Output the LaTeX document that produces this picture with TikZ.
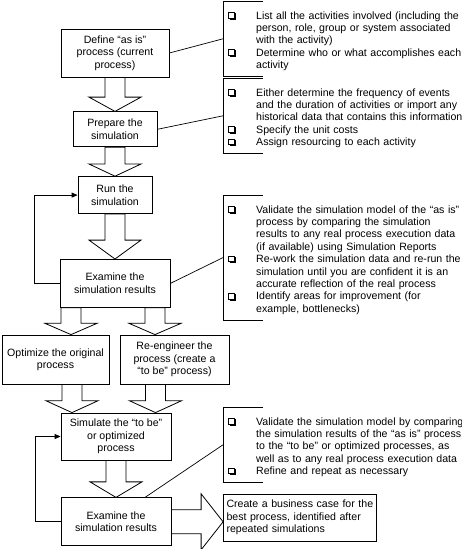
\documentclass[tikz,border=0pt]{standalone}
\usepackage{fontspec}
\setmainfont{Liberation Sans}
\usetikzlibrary{positioning, calc, arrows.meta}
\newcommand{\bul}{%
  \rlap{\rule[0.5pt]{0.8pt}{6.6pt}}%
  \rlap{\rule[6.3pt]{6.6pt}{0.8pt}}%
  \rlap{\rule[0.5pt]{6.6pt}{0.8pt}}%
  \rlap{\kern5.8pt\rule[0.5pt]{0.8pt}{6.6pt}}%
  \rlap{\kern6.6pt\rule[-0.7pt]{1.2pt}{6.6pt}}%
  \rlap{\kern1.2pt\rule[-0.7pt]{6.6pt}{1.2pt}}%
  \kern7.8pt}
\newcommand{\itm}[1]{\par\noindent\hangindent=33pt\hangafter=0\llap{\bul\hspace{20pt}}#1\par}
\newcommand{\fatarrow}[3][0pt]{%
  \path[fat] let \p1=(#2.south), \p2=(#3.north), \n1={\x1+#1}, \n2={0.42*(\y1-\y2)} in
    (\n1-10pt,\y1) -- (\n1-10pt,\y2+\n2) -- (\n1-26pt,\y2+\n2) -- (\n1,\y2)
    -- (\n1+26pt,\y2+\n2) -- (\n1+10pt,\y2+\n2) -- (\n1+10pt,\y1) -- cycle;}

\begin{document}
\begin{tikzpicture}[x=1pt, y=-1pt,
  every node/.style={font=\fontsize{10.6pt}{12.4pt}\selectfont},
  box/.style={draw, line width=0.8pt, align=center, inner sep=2pt},
  note/.style={anchor=north west, text width=250pt, align=left, inner xsep=0pt, inner ysep=5.5pt},
  fat/.style={draw, fill=white, line width=0.8pt, line join=miter},
  link/.style={line width=0.7pt},
  back/.style={-{Triangle[length=6pt,width=5pt]}, line width=0.8pt}]

  \useasboundingbox (0,0) rectangle (462,549);

  \node[box, minimum width=108pt, minimum height=48pt] (define) at (115,53) {Define “as is”\\process (current\\process)};
  \node[box, minimum width=84pt, minimum height=35pt, below=34pt of define] (prepare) {Prepare the\\simulation};
  \node[box, minimum width=74pt, minimum height=37pt, below=29pt of prepare] (run) {Run the\\simulation};
  \node[box, minimum width=110pt, minimum height=48pt, below=45pt of run] (examine) {Examine the\\simulation results};
  \node[box, minimum width=107pt, minimum height=49pt] (optimize) at (55.5,359.5) {Optimize the original\\process};
  \node[box, minimum width=109pt, minimum height=49pt] (reeng) at (174.5,359.5) {Re-engineer the\\process (create a\\“to be” process)};
  \node[box, minimum width=110pt, minimum height=47pt] (simulate) at (116,436.5) {Simulate the “to be”\\or optimized\\process};
  \node[box, minimum width=110pt, minimum height=48pt, below=37pt of simulate] (examineb) {Examine the\\simulation results};
  \node[box, minimum width=152pt, minimum height=47pt, align=left, text width=147pt, inner xsep=3pt] (business) at (300,517.5) {Create a business case for the\\best process, identified after\\repeated simulations};

  \node[note] (note1) at (223,1) {%
    \itm{List all the activities involved (including the\newline person, role, group or system associated\newline with the activity)}
    \itm{Determine who or what accomplishes each\newline activity}};
  \node[note] (note2) at (223,78) {%
    \itm{Either determine the frequency of events\newline and the duration of activities or import any\newline historical data that contains this information}
    \itm{Specify the unit costs}
    \itm{Assign resourcing to each activity}};
  \node[note] (note3) at (223,195) {%
    \itm{Validate the simulation model of the “as is”\newline process by comparing the simulation\newline results to any real process execution data\newline (if available) using Simulation Reports}
    \itm{Re-work the simulation data and re-run the\newline simulation until you are confident it is an\newline accurate reflection of the real process}
    \itm{Identify areas for improvement (for\newline example, bottlenecks)}};
  \node[note] (note4) at (223,407) {%
    \itm{Validate the simulation model by comparing\newline the simulation results of the “as is” process\newline to the “to be” or optimized processes, as\newline well as to any real process execution data}
    \itm{Refine and repeat as necessary}};

  \foreach \n in {note1, note2, note3, note4}
    \draw[link] ([xshift=40pt]\n.north west) -- (\n.north west) -- (\n.south west) -- ([xshift=40pt]\n.south west);

  \fatarrow{define}{prepare}
  \fatarrow{prepare}{run}
  \fatarrow{run}{examine}
  \fatarrow[-44pt]{examine}{optimize}
  \fatarrow[40pt]{examine}{reeng}
  \fatarrow[16.5pt]{optimize}{simulate}
  \fatarrow[-19pt]{reeng}{simulate}
  \fatarrow{simulate}{examineb}
  \path[fat] let \p1=(examineb.east), \p2=(business.west) in
    (\x1,\y1+12pt) -- (\x2-22pt,\y1+12pt) -- (\x2-22pt,\y1+28pt) -- (\x2,\y1)
    -- (\x2-22pt,\y1-28pt) -- (\x2-22pt,\y1-12pt) -- (\x1,\y1-12pt) -- cycle;

  \draw[back] (examine.west) -- ++(-25,0) |- (run.west);
  \draw[back] (examineb.west) -- ++(-25,0) |- (simulate.west);

  \draw[link] (define.east) -- (note1.west);
  \draw[link] (prepare.east) -- (note2.west);
  \draw[link] (examine.east) -- (note3.west);
  \draw[link] ([xshift=29pt]examineb.north) -- (note4.west);
\end{tikzpicture}
\end{document}
